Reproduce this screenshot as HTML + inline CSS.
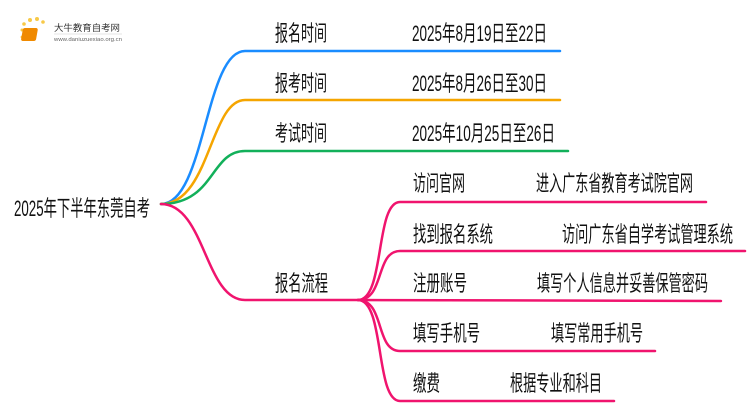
<!DOCTYPE html>
<html><head><meta charset="utf-8"><style>
html,body{margin:0;padding:0;background:#fff;}
svg{display:block;font-family:"Liberation Sans","Noto Sans CJK SC",sans-serif;}
</style></head><body>
<svg width="750" height="410" viewBox="0 0 750 410" xmlns="http://www.w3.org/2000/svg">
<!-- logo -->
<g>
<circle cx="22" cy="30" r="1.5" fill="#f7c948"/><circle cx="24" cy="24" r="1.8" fill="#f7c948"/>
<circle cx="30" cy="20" r="2" fill="#f7c948"/><circle cx="37" cy="19" r="2" fill="#f7c948"/>
<circle cx="43" cy="22" r="1.8" fill="#f7c948"/><circle cx="22" cy="37" r="1.4" fill="#f7c948"/>
<rect x="28" y="28" width="15" height="13" rx="2" fill="#f08a00" transform="skewX(-10)"/>
<text x="54" y="31" font-size="9" fill="#333" textLength="66" lengthAdjust="spacingAndGlyphs">大牛教育自考网</text>
<line x1="54" y1="34" x2="122" y2="34" stroke="#ccc" stroke-width="0.5"/>
<text x="54" y="41" font-size="5" fill="#666" textLength="68" lengthAdjust="spacingAndGlyphs">www.daniuzuexiao.org.cn</text>
</g>
<g fill="none" stroke-width="2.5" stroke-linecap="round">
<path d="M161 204 C205 204 205 51 245 51 L560 51" stroke="#1a8cff"/>
<path d="M161 204 C210 204 210 100 245 100 L560 100" stroke="#f5a500"/>
<path d="M161 204 C215 204 210 151 245 151 L568 151" stroke="#12b05a"/>
<path d="M161 204 C205 204 205 300 245 300 L358 300" stroke="#f0146e"/>
<path d="M358 300 C385 300 375 202 400 202 L706 202" stroke="#f0146e"/>
<path d="M358 300 C385 300 375 251 400 251 L745 251" stroke="#f0146e"/>
<path d="M358 300 L721 301" stroke="#f0146e"/>
<path d="M358 300 C385 300 375 351 400 351 L655 351" stroke="#f0146e"/>
<path d="M358 300 C385 300 375 401 400 401 L614 401" stroke="#f0146e"/>
</g>
<g font-size="22" fill="#111">
<text x="14" y="216" textLength="136" lengthAdjust="spacingAndGlyphs">2025年下半年东莞自考</text>
<text x="275" y="41" textLength="52" lengthAdjust="spacingAndGlyphs">报名时间</text>
<text x="412" y="41" textLength="135" lengthAdjust="spacingAndGlyphs">2025年8月19日至22日</text>
<text x="275" y="91" textLength="52" lengthAdjust="spacingAndGlyphs">报考时间</text>
<text x="412" y="91" textLength="135" lengthAdjust="spacingAndGlyphs">2025年8月26日至30日</text>
<text x="275" y="141" textLength="52" lengthAdjust="spacingAndGlyphs">考试时间</text>
<text x="412" y="141" textLength="143" lengthAdjust="spacingAndGlyphs">2025年10月25日至26日</text>
<text x="275" y="291" textLength="53" lengthAdjust="spacingAndGlyphs">报名流程</text>
<text x="413" y="191" textLength="52" lengthAdjust="spacingAndGlyphs">访问官网</text>
<text x="536" y="191" textLength="157" lengthAdjust="spacingAndGlyphs">进入广东省教育考试院官网</text>
<text x="413" y="242" textLength="80" lengthAdjust="spacingAndGlyphs">找到报名系统</text>
<text x="562" y="242" textLength="171" lengthAdjust="spacingAndGlyphs">访问广东省自学考试管理系统</text>
<text x="413" y="291" textLength="54" lengthAdjust="spacingAndGlyphs">注册账号</text>
<text x="537" y="291" textLength="171" lengthAdjust="spacingAndGlyphs">填写个人信息并妥善保管密码</text>
<text x="413" y="341" textLength="67" lengthAdjust="spacingAndGlyphs">填写手机号</text>
<text x="551" y="341" textLength="92" lengthAdjust="spacingAndGlyphs">填写常用手机号</text>
<text x="413" y="391" textLength="27" lengthAdjust="spacingAndGlyphs">缴费</text>
<text x="510" y="391" textLength="92" lengthAdjust="spacingAndGlyphs">根据专业和科目</text>
</g>
</svg>
</body></html>
